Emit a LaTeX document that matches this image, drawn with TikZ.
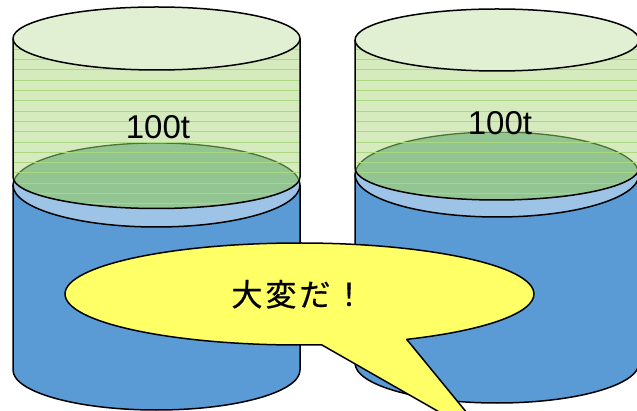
\documentclass[tikz,border=0pt]{standalone}
\usepackage{fontspec}
\setmainfont{Liberation Sans}
\newfontfamily\jpfont[FakeBold=0.6]{Noto Sans CJK JP}

\definecolor{tankblue}{HTML}{5B9BD5}
\definecolor{surfaceblue}{HTML}{9DC3E6}
\definecolor{loadgreen}{HTML}{D5EABD}
\definecolor{lidgreen}{HTML}{E1F0D3}
\definecolor{overlapgreen}{HTML}{93C593}
\definecolor{rimgreen}{HTML}{4D7335}
\definecolor{hatchgreen}{HTML}{ABD982}
\definecolor{bubbleyellow}{HTML}{FFFF66}

\tikzset{
  outline/.style={draw=black, line width=1.5pt, line join=round},
  hatchline/.style={draw=hatchgreen, line width=0.6pt},
  loadlabel/.style={anchor=base, inner sep=0pt, font=\fontsize{33}{40}\selectfont},
  shoutlabel/.style={anchor=base, inner sep=0pt, font=\jpfont\fontsize{31}{36}\selectfont},
}

\begin{document}
\begin{tikzpicture}[x=1pt, y=1pt, yscale=-1]
  \useasboundingbox (0,0) rectangle (637,411);
  \fill[white] (0,0) rectangle (637,411);
  \clip (0,0) rectangle (637,411);

  % two tanks: blue liquid cylinder with a green load cylinder sitting in it
  \foreach \cx/\rx/\gt/\gtr/\gb/\gbr/\bt/\btr/\bb/\bbr in
    {156.5/143.5/38.5/31.5/177/31.5/185/42/370/40,
     497/142/40/31/168/32/174.5/42.5/363/40} {
    % blue tank body
    \fill[tankblue] ({\cx-\rx},\bt) rectangle ({\cx+\rx},\bb);
    \fill[tankblue] (\cx,\bb) ellipse[x radius=\rx, y radius=\bbr];
    \draw[outline] ({\cx-\rx},\bt) -- ({\cx-\rx},\bb)
      arc[start angle=180, end angle=0, x radius=\rx, y radius=\bbr]
      -- ({\cx+\rx},\bt);
    \filldraw[outline, fill=surfaceblue] (\cx,\bt) ellipse[x radius=\rx, y radius=\btr];
    % green load body
    \fill[loadgreen] ({\cx-\rx},\gt) -- ({\cx-\rx},\gb)
      arc[start angle=180, end angle=0, x radius=\rx, y radius=\gbr]
      -- ({\cx+\rx},\gt) -- cycle;
    \begin{scope}
      \clip ({\cx-\rx},\gt) -- ({\cx-\rx},\gb)
        arc[start angle=180, end angle=0, x radius=\rx, y radius=\gbr]
        -- ({\cx+\rx},\gt) -- cycle;
      \fill[overlapgreen] (\cx,\bt) ellipse[x radius=\rx, y radius=\btr];
      \draw[rimgreen, line width=1.3pt] (\cx,\bt) ellipse[x radius=\rx, y radius=\btr];
      \foreach \k in {-5,...,16}
        \draw[hatchline] ({\cx-\rx},{59.5+10.3*\k}) -- ++({2*\rx},0);
    \end{scope}
    \draw[outline] ({\cx-\rx},\gt) -- ({\cx-\rx},\gb)
      arc[start angle=180, end angle=0, x radius=\rx, y radius=\gbr]
      -- ({\cx+\rx},\gt);
    \filldraw[outline, fill=lidgreen] (\cx,\gt) ellipse[x radius=\rx, y radius=\gtr];
  }

  \node[loadlabel] (loadL) at (158,139) {100t};
  \node[loadlabel] (loadR) at (500,135) {100t};

  % speech bubble
  \path (299.5,294) ++(84.6:234.5 and 51) coordinate (tailL);
  \coordinate (tailtip) at (490,441);
  \draw[outline, fill=bubbleyellow] (tailL)
    arc[start angle=84.6, end angle=422.8, x radius=234.5, y radius=51]
    -- (tailtip) -- cycle;
  \node[shoutlabel] (shout) at (298,306) {大\kern3pt変\kern3ptだ\kern3pt！};
\end{tikzpicture}
\end{document}
